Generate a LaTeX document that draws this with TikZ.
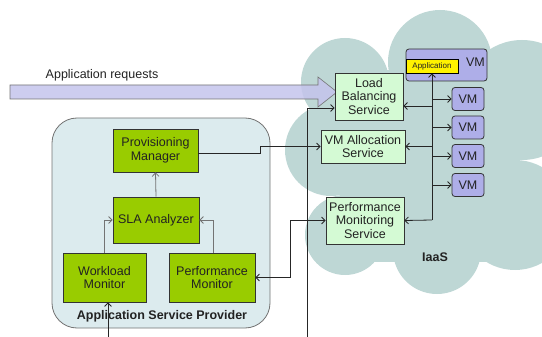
\documentclass[tikz,border=0pt]{standalone}
\usepackage{fontspec}
\setmainfont{Liberation Sans}
\usetikzlibrary{arrows.meta,calc}
\definecolor{cloudc}{RGB}{190,215,213}
\definecolor{aspc}{RGB}{220,235,238}
\definecolor{lgreen}{RGB}{212,250,212}
\definecolor{dgreen}{RGB}{153,204,0}
\definecolor{vmc}{RGB}{174,174,232}
\definecolor{arrc}{RGB}{196,196,236}
\definecolor{txt}{RGB}{34,34,34}
\begin{document}
\begin{tikzpicture}[x=1pt,y=-1pt,
  >={Straight Barb[length=3.5pt,width=7pt]},
  every node/.style={text=txt,inner sep=0pt,align=center,font=\fontsize{12.5}{13.5}\selectfont},
  svc/.style={draw=black!80,fill=lgreen,line width=0.8pt},
  asp/.style={draw=black!80,fill=dgreen,line width=0.8pt},
  vm/.style={draw=black!80,fill=vmc,rounded corners=3pt,line width=0.8pt},
  conn/.style={line width=0.8pt,draw=black!85},
  gconn/.style={line width=0.8pt,draw=black!55}]
\useasboundingbox (0,0) rectangle (542,337);
% cloud
\begin{scope}[fill=cloudc]
\fill (440,62) circle[radius=52];
\fill (345,82) circle[radius=44];
\fill (522,100) circle[radius=60];
\fill (331,150) circle[radius=46];
\fill (345,235) circle[radius=40];
\fill (437,250) circle[radius=44];
\fill (515,215) circle[radius=55];
\fill (340,70) rectangle (520,262);
\end{scope}
% application requests arrow
\fill[arrc,opacity=0.85] (10,85) -- (318,85) -- (318,77) -- (337,92) -- (318,107) -- (318,99) -- (10,99) -- cycle;
\draw[black!55,line width=0.6pt] (10,85) -- (318,85) -- (318,77) -- (337,92) -- (318,107) -- (318,99) -- (10,99) -- cycle;
\node (req) at (102,75) {Application requests};
% ASP
\node[draw=black!55,fill=aspc,rounded corners=25pt,minimum width=218pt,minimum height=210pt,line width=0.8pt] (aspbox) at (161,223) {};
\node[font=\fontsize{12.5}{13.5}\selectfont\bfseries] (asplbl) at (162,316) {Application Service Provider};
\node[asp,minimum width=85pt,minimum height=43pt] (pm) at (155.5,150.5) {Provisioning\\Manager};
\node[asp,minimum width=86pt,minimum height=46pt] (sla) at (156,220) {SLA Analyzer};
\node[asp,minimum width=83pt,minimum height=49pt] (wm) at (104.5,277.5) {Workload\\Monitor};
\node[asp,minimum width=86pt,minimum height=49pt] (pfm) at (212,277.5) {Performance\\Monitor};
% IaaS
\node[svc,minimum width=68pt,minimum height=47pt] (lb) at (369,96.5) {Load\\Balancing\\Service};
\node[svc,minimum width=84pt,minimum height=33pt] (vma) at (363,146.5) {VM Allocation\\Service};
\node[svc,minimum width=78pt,minimum height=47pt] (pms) at (365,220.5) {Performance\\Monitoring\\Service};
\node[vm,minimum width=81pt,minimum height=32pt] (vmbig) at (446.5,65) {};
\node[anchor=east] (vmbl) at (485,62) {VM};
\node[draw=black,fill=yellow,line width=0.8pt,minimum width=52pt,minimum height=14pt,font=\fontsize{8}{9}\selectfont] (app) at (432,66) {Application};
\node[vm,minimum width=32pt,minimum height=23pt] (vm1) at (468,99) {VM};
\node[vm,minimum width=32pt,minimum height=23pt] (vm2) at (468,127.5) {VM};
\node[vm,minimum width=32pt,minimum height=23pt] (vm3) at (468,156) {VM};
\node[vm,minimum width=32pt,minimum height=23pt] (vm4) at (468,185) {VM};
\node[font=\fontsize{12.5}{13.5}\selectfont\bfseries] (iaas) at (435,257) {IaaS};
% connectors inside ASP
\draw[gconn,->] (sla.north) -- (pm.south);
\draw[gconn,->] (wm.north) |- (sla.west);
\draw[gconn,->] ([xshift=1pt]pfm.north) |- (sla.east);
% bottom inputs
\coordinate (bwm) at (108,337);
\coordinate (blb) at (307,337);
\draw[conn,->] (bwm) -- (bwm |- wm.south);
\draw[conn,->] (blb) |- ([yshift=-11.5pt]lb.west);
% cross connectors
\draw[conn,->] ([yshift=-2.5pt]pm.east) -- ++(62,0) |- (vma.west);
\draw[conn,<->] (pfm.east) -- ++(35,0) |- (pms.west);
% bus
\coordinate (bus) at (432,220);
\draw[conn,->] (bus) -- (app.south);
\draw[conn,->] (bus) -- (pms.east);
\draw[conn,->] (bus |- lb.east) ++(0,9.5) -- ([yshift=-9.5pt]lb.east);
\draw[conn,->] (bus |- vma.east) -- (vma.east);
\draw[conn,->] (bus |- vm1.west) -- (vm1.west);
\draw[conn,->] (bus |- vm2.west) -- (vm2.west);
\draw[conn,->] (bus |- vm3.west) -- (vm3.west);
\draw[conn,->] (bus |- vm4.west) -- (vm4.west);
\end{tikzpicture}
\end{document}
